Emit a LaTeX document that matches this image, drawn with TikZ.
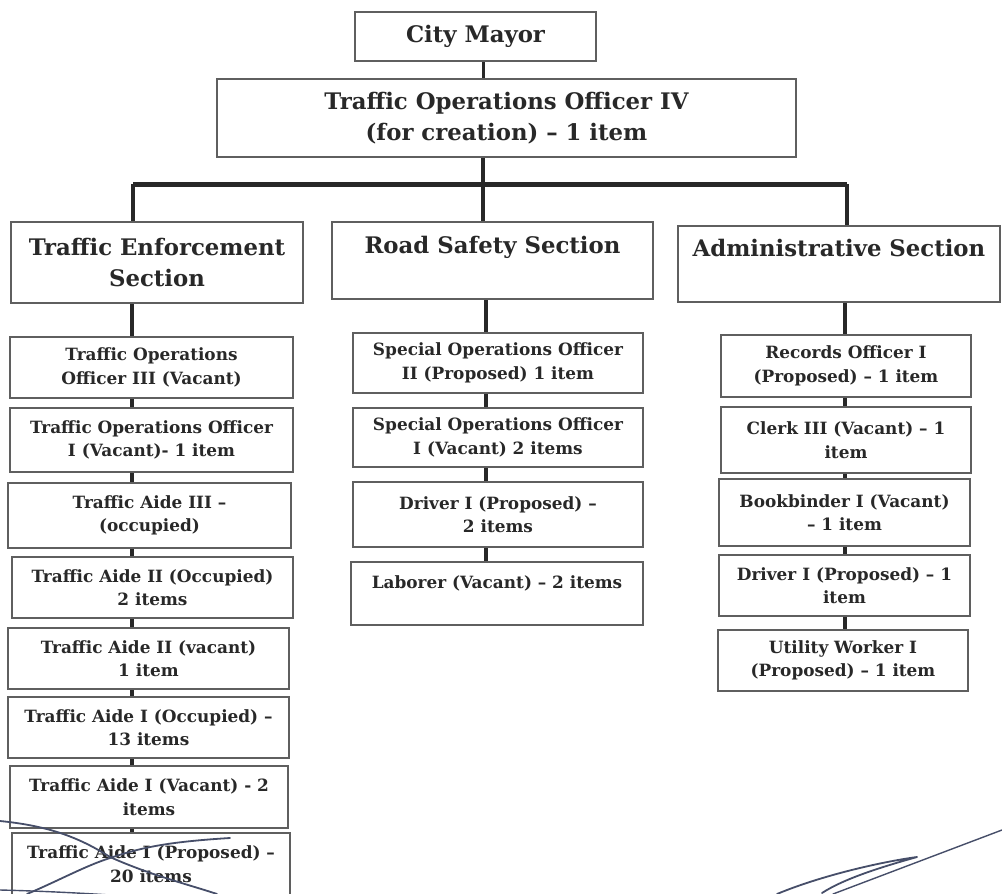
\documentclass[tikz,border=0pt]{standalone}
\usepackage{fontspec}
\setmainfont{DejaVu Serif}
\definecolor{ink}{RGB}{40,40,40}
\definecolor{frame}{RGB}{95,95,95}
\definecolor{pen}{RGB}{70,78,105}
\tikzset{
  box/.style={draw=frame, line width=1.1pt, align=center, inner sep=0pt, text=ink, fill=white},
  bigbox/.style={box, font=\fontsize{22.8}{31.5}\selectfont\bfseries},
  smallbox/.style={box, font=\fontsize{16.9}{23.5}\selectfont\bfseries},
  link/.style={draw=ink, line width=3.5pt},
  barline/.style={draw=ink, line width=5pt},
  sig/.style={draw=pen, line width=1.8pt, line cap=round, line join=round}
}
\begin{document}
\begin{tikzpicture}[x=1pt,y=-1pt]
\useasboundingbox (0,0) rectangle (1002,894);
\clip (0,0) rectangle (1002,894);
\fill[white] (0,0) rectangle (1002,894);

% coordinates for the connector lines
\coordinate (spine) at (483,184);
\coordinate (barL) at (133,184);
\coordinate (barR) at (847,184);
\coordinate (colL) at (132,0);
\coordinate (colM) at (486,0);
\coordinate (colR) at (845,0);

% connectors (drawn first, boxes on top)
\draw[link, line width=3pt] (spine |- 0,61) -- (spine |- 0,79);
\draw[link] (spine |- 0,157) -- (spine |- 0,222);
\draw[barline] (barL) -- (barR);
\draw[link] (barL) -- (barL |- 0,222);
\draw[link] (barR) -- (barR |- 0,226);
\draw[link] (colL |- 0,303) -- (colL |- 0,880);
\draw[link] (colM |- 0,299) -- (colM |- 0,600);
\draw[link] (colR |- 0,302) -- (colR |- 0,660);

% top
\node[bigbox, minimum width=241pt, minimum height=49pt] (mayor) at (475.5,36.5) {City Mayor};
\node[bigbox, minimum width=579pt, minimum height=78pt] (too4) at (506.5,118) {Traffic Operations Officer IV\\(for creation) – 1 item};

% sections
\node[bigbox, minimum width=292pt, minimum height=81pt] (tes) at (157,262.5) {Traffic Enforcement\\Section};
\node[bigbox, minimum width=321pt, minimum height=77pt] (rss) at (492.5,260.5) {Road Safety Section\\\mbox{}};
\node[bigbox, minimum width=322pt, minimum height=76pt] (adm) at (839,264) {Administrative Section\\\mbox{}};

% left column
\node[smallbox, minimum width=283pt, minimum height=61pt] (l1) at (151.5,367.5) {Traffic Operations\\Officer III (Vacant)};
\node[smallbox, minimum width=283pt, minimum height=64pt] (l2) at (151.5,440) {Traffic Operations Officer\\I (Vacant)- 1 item};
\node[smallbox, minimum width=283pt, minimum height=65pt] (l3) at (149.5,515.5) {Traffic Aide III –\\(occupied)};
\node[smallbox, minimum width=281pt, minimum height=61pt] (l4) at (152.5,587.5) {Traffic Aide II (Occupied)\\2 items};
\node[smallbox, minimum width=281pt, minimum height=61pt] (l5) at (148.5,658.5) {Traffic Aide II (vacant)\\1 item};
\node[smallbox, minimum width=281pt, minimum height=61pt] (l6) at (148.5,727.5) {Traffic Aide I (Occupied) –\\13 items};
\node[smallbox, minimum width=278pt, minimum height=62pt] (l7) at (149,797) {Traffic Aide I (Vacant) - 2\\items};
\node[smallbox, minimum width=278pt, minimum height=62pt] (l8) at (151,864) {Traffic Aide I (Proposed) –\\20 items};

% middle column
\node[smallbox, minimum width=290pt, minimum height=60pt] (m1) at (498,363) {Special Operations Officer\\II (Proposed) 1 item};
\node[smallbox, minimum width=290pt, minimum height=59pt] (m2) at (498,437.5) {Special Operations Officer\\I (Vacant) 2 items};
\node[smallbox, minimum width=290pt, minimum height=65pt] (m3) at (498,514.5) {Driver I (Proposed) –\\2 items};
\node[smallbox, minimum width=292pt, minimum height=63pt] (m4) at (497,593.5) {Laborer (Vacant) – 2 items\\\mbox{}};

% right column
\node[smallbox, minimum width=250pt, minimum height=62pt] (r1) at (846,366) {Records Officer I\\(Proposed) – 1 item};
\node[smallbox, minimum width=250pt, minimum height=66pt] (r2) at (846,440) {Clerk III (Vacant) – 1\\item};
\node[smallbox, minimum width=251pt, minimum height=67pt] (r3) at (844.5,512.5) {Bookbinder I (Vacant)\\– 1 item};
\node[smallbox, minimum width=251pt, minimum height=61pt] (r4) at (844.5,585.5) {Driver I (Proposed) – 1\\item};
\node[smallbox, minimum width=250pt, minimum height=61pt] (r5) at (843,660.5) {Utility Worker I\\(Proposed) – 1 item};

% handwritten marks (signatures)
\draw[sig] (0,821) .. controls (50,826) and (80,838) .. (110,857) .. controls (150,875) and (190,885) .. (217,894);
\draw[sig] (27,894) .. controls (60,880) and (85,866) .. (110,858) .. controls (140,848) and (165,842) .. (230,838);
\draw[sig, line width=1.4pt] (0,890) .. controls (40,891) and (80,893) .. (110,895);
\draw[sig, line width=1.4pt] (1002,830) -- (833,894);
\draw[sig] (777,894) .. controls (820,876) and (880,862) .. (917,857) .. controls (885,866) and (845,878) .. (822,893);
\end{tikzpicture}
\end{document}
